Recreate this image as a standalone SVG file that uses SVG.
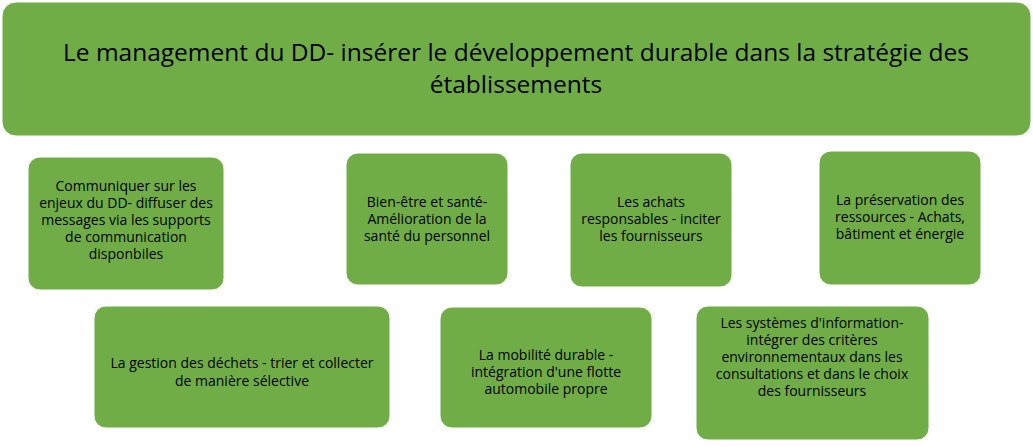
<svg xmlns="http://www.w3.org/2000/svg" width="1033" height="447" viewBox="0 0 1033 447">
<style>
.b{fill:#70AD47;stroke:#ffffff;stroke-width:1}
.t{font-family:"Open Sans","Liberation Sans",sans-serif;font-size:14px;fill:#000;text-anchor:middle}
.h{font-family:"Open Sans","Liberation Sans",sans-serif;font-size:24.5px;fill:#000;text-anchor:middle}
</style>
<rect width="1033" height="447" fill="#ffffff"/>
<g id="title"><rect class="b" x="2" y="2" width="1029" height="134" rx="14"/>
<text class="h" x="516" y="61">Le management du DD- insérer le développement durable dans la stratégie des</text>
<text class="h" x="516" y="93">établissements</text></g>
<g id="n1"><rect class="b" x="28" y="157" width="196" height="133" rx="12"/>
<text class="t" x="126" y="191">Communiquer sur les</text><text class="t" x="126" y="208">enjeux du DD- diffuser des</text><text class="t" x="126" y="225">messages via les supports</text><text class="t" x="126" y="242">de communication</text><text class="t" x="126" y="259">disponbiles</text></g>
<g id="n2"><rect class="b" x="346" y="153" width="162" height="132" rx="12"/>
<text class="t" x="427" y="207">Bien-être et santé-</text><text class="t" x="427" y="224">Amélioration de la</text><text class="t" x="427" y="241">santé du personnel</text></g>
<g id="n3"><rect class="b" x="570" y="153" width="162" height="134" rx="12"/>
<text class="t" x="651" y="207">Les achats</text><text class="t" x="651" y="224">responsables - inciter</text><text class="t" x="651" y="241">les fournisseurs</text></g>
<g id="n4"><rect class="b" x="819" y="151" width="162" height="134" rx="12"/>
<text class="t" x="900" y="205">La préservation des</text><text class="t" x="900" y="222">ressources -  Achats,</text><text class="t" x="900" y="239">bâtiment et énergie</text></g>
<g id="n5"><rect class="b" x="94" y="306" width="296" height="122" rx="12"/>
<text class="t" x="242" y="368">La gestion des déchets - trier et collecter</text><text class="t" x="242" y="386">de manière sélective</text></g>
<g id="n6"><rect class="b" x="440" y="307" width="212" height="121" rx="12"/>
<text class="t" x="546" y="360">La mobilité durable -</text><text class="t" x="546" y="377">intégration d'une flotte</text><text class="t" x="546" y="394">automobile propre</text></g>
<g id="n7"><rect class="b" x="696" y="306" width="233" height="134" rx="12"/>
<text class="t" x="812" y="328">Les systèmes d'information-</text><text class="t" x="812" y="345">intégrer des critères</text><text class="t" x="812" y="362">environnementaux dans les</text><text class="t" x="812" y="379">consultations et dans le choix</text><text class="t" x="812" y="396">des fournisseurs</text></g>
<g id="connectors"/>
</svg>
